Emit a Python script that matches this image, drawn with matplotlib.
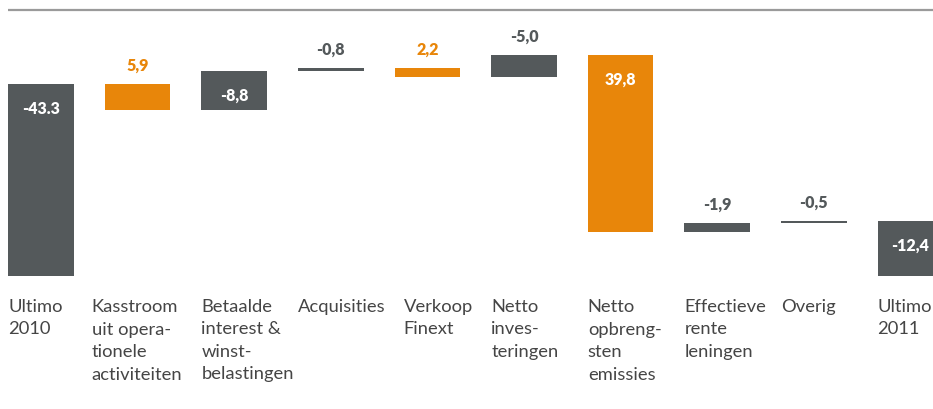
import matplotlib
matplotlib.use("Agg")
import matplotlib.pyplot as plt

# Net debt bridge 2010 -> 2011 (EUR million)
categories = [
    "Ultimo\n2010",
    "Kasstroom\nuit opera-\ntionele\nactiviteiten",
    "Betaalde\ninterest &\nwinst-\nbelastingen",
    "Acquisities",
    "Verkoop\nFinext",
    "Netto\ninves-\nteringen",
    "Netto\nopbreng-\nsten\nemissies",
    "Effectieve\nrente\nleningen",
    "Overig",
    "Ultimo\n2011",
]
values = [-43.3, 5.9, -8.8, -0.8, 2.2, -5.0, 39.8, -1.9, -0.5, -12.4]
is_total = [True, False, False, False, False, False, False, False, False, True]
value_labels = ["-43.3", "5,9", "-8,8", "-0,8", "2,2", "-5,0", "39,8", "-1,9", "-0,5", "-12,4"]

GREY = "#54595b"
ORANGE = "#e8860a"
TEXT = "#454545"
FONT = "Lato"

W, H, DPI = 933, 409, 100
fig = plt.figure(figsize=(W / DPI, H / DPI), dpi=DPI)
ax = fig.add_axes([0, 0, 1, 1])
ax.set_axis_off()

px_per_unit = 4.434
zero_px = 276
ax.set_ylim(-(H - zero_px) / px_per_unit, zero_px / px_per_unit)
spacing = 96.6
first_center = 41
ax.set_xlim(-first_center / spacing, (W - first_center) / spacing)

bar_w = 0.68
running = 0.0
for i, (v, tot) in enumerate(zip(values, is_total)):
    if tot:
        bottom, height = 0.0, -v
        color = GREY
        running = v
    else:
        bottom, height = -running, -v
        color = ORANGE if v > 0 else GREY
        running += v
    ax.bar(i, height, bottom=bottom, width=bar_w, color=color, linewidth=0)

    top = max(bottom, bottom + height)
    if abs(v) > 8:
        ax.annotate(value_labels[i], (i, top), xytext=(0, -18), textcoords="offset points",
                    ha="center", va="center", color="white", fontsize=11.5,
                    fontweight="heavy", family=FONT)
    else:
        ax.annotate(value_labels[i], (i, top), xytext=(0, 13), textcoords="offset points",
                    ha="center", va="center", color=ORANGE if v > 0 else GREY,
                    fontsize=11.5, fontweight="heavy", family=FONT)

# category labels, left-aligned under each bar
nudge_px = {1: -13, 4: 9}
label_top = -(299 - zero_px) / px_per_unit
for i, name in enumerate(categories):
    x = i - bar_w / 2 + nudge_px.get(i, 0) / spacing
    ax.text(x, label_top, name, ha="left", va="top", color=TEXT, fontsize=13.2,
            family=FONT, linespacing=1.5)

# top rule
rule_y = (zero_px - 9.5) / px_per_unit
ax.plot([-bar_w / 2, (W - first_center) / spacing], [rule_y, rule_y],
        color="#9a9a9a", linewidth=1.6, solid_capstyle="butt")

fig.savefig("out.png", dpi=DPI)
